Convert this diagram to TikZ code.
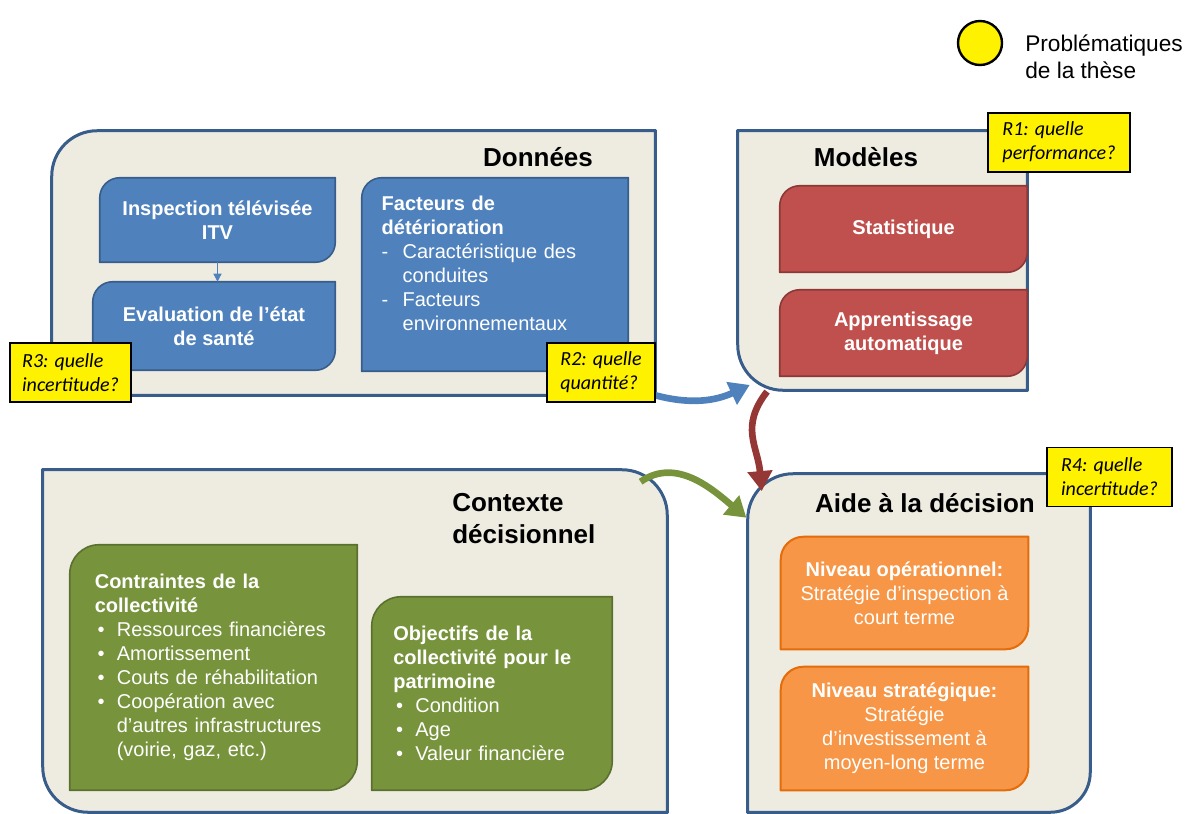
\documentclass[tikz,border=0pt]{standalone}
\usepackage{fontspec}
\setmainfont{Liberation Sans}
\newfontfamily\notefont{Carlito}
\usepackage{tikz}
\usetikzlibrary{
        arrows.meta,
        backgrounds,
        positioning
    }
\definecolor{panelfill}{HTML}{EEECE1}
\definecolor{panelline}{HTML}{385D8A}
\definecolor{bluefill}{HTML}{4F81BD}
\definecolor{blueline}{HTML}{385D8A}
\definecolor{redfill}{HTML}{C0504D}
\definecolor{redline}{HTML}{8C3836}
\definecolor{greenfill}{HTML}{77933C}
\definecolor{greenline}{HTML}{5A7030}
\definecolor{orangefill}{HTML}{F79646}
\definecolor{orangeline}{HTML}{E46C0A}
\definecolor{redarrow}{HTML}{953735}
\tikzset{>={Triangle[length=15pt,width=18pt]}}
% box drawn round a node, one radius per corner: tl, tr, br, bl
\newcommand{\cornerbox}[6]{%
  \path[#2] ([yshift=-#3]#1.north west) arc[start angle=180,end angle=90,radius=#3]
    -- ([xshift=-#4]#1.north east) arc[start angle=90,end angle=0,radius=#4]
    -- ([yshift=#5]#1.south east) arc[start angle=0,end angle=-90,radius=#5]
    -- ([xshift=#6]#1.south west) arc[start angle=270,end angle=180,radius=#6]
    -- cycle;}
\newcommand{\dashitem}{\makebox[15.75pt][l]{-}}
\newcommand{\dotitem}{\makebox[16.5pt][l]{\hspace{2pt}•}}
\newcommand{\dashgap}{\hspace*{15.75pt}}
\newcommand{\dotgap}{\hspace*{16.5pt}}

\begin{document}
\begin{tikzpicture}[x=0.75pt,y=-0.75pt,
    panel/.style={fill=panelfill,draw=panelline,line width=2.25pt},
    bluebox/.style={fill=bluefill,draw=blueline,line width=1.2pt},
    redbox/.style={fill=redfill,draw=redline,line width=1.2pt},
    greenbox/.style={fill=greenfill,draw=greenline,line width=1.2pt},
    orangebox/.style={fill=orangefill,draw=orangeline,line width=1.5pt},
    area/.style={inner sep=0pt},
    boxtext/.style={inner sep=0pt,text=white,font=\fontsize{15}{18}\selectfont},
    boldtext/.style={boxtext,font=\fontsize{15}{18}\selectfont\bfseries},
    title/.style={inner sep=0pt,font=\fontsize{19.5}{24}\selectfont\bfseries},
    question/.style={draw=black,fill=yellow,line width=1.2pt,inner sep=0pt,align=left,
        minimum height=44.25pt,font=\notefont\itshape\fontsize{15}{18}\selectfont},
    flow/.style={->,line width=5pt}]
    \useasboundingbox (0,0) rectangle (1189,814);

    % legend
    \node[circle,fill=yellow,draw=black,line width=1.8pt,minimum size=33pt,inner sep=0pt] (legdot) at (980,43) {};
    \node[anchor=west,align=left,inner sep=0pt,font=\fontsize{17}{20}\selectfont] (legtext) at (1025,57) {Problématiques\\de la thèse};

    % panels
    \node[area,minimum width=452.25pt,minimum height=198pt] (donnees) at (353.5,263) {};
    \node[area,minimum width=216.75pt,minimum height=194.25pt] (modeles) at (882.5,260.5) {};
    \node[area,minimum width=468pt,minimum height=256.5pt] (contexte) at (355,641) {};
    \node[area,minimum width=256.5pt,minimum height=253.5pt] (aide) at (919,643) {};

    \node[title] (tdonnees) at (538,157) {Données};
    \node[title] (tmodeles) at (866,157) {Modèles};
    \node[title,anchor=west,align=left] (tcontexte) at (452,519) {Contexte\\décisionnel};
    \node[title] (taide) at (925,503) {Aide à la décision};

    % Donnees
    \node[boldtext,minimum width=176.25pt,minimum height=63pt,align=center] (insp) at (217.5,220) {Inspection télévisée\\ITV};
    \node[boldtext,minimum width=181.5pt,minimum height=66pt,align=center] (eval) at (214,326) {Evaluation de l’état\\de santé};
    \node[boxtext,minimum width=199.5pt,minimum height=144.75pt,text width=170pt,align=left] (fact) at (495,274.5)
        {\textbf{Facteurs de}\\\textbf{détérioration}\\\dashitem Caractéristique des\\\dashgap conduites\\\dashitem Facteurs\\\dashgap environnementaux\par\vspace{16pt}\kern0pt};

    % Modeles
    \node[boldtext,minimum width=185.25pt,minimum height=64.5pt,align=center] (stat) at (903.5,229) {Statistique};
    \node[boldtext,minimum width=185.25pt,minimum height=64.5pt,align=center] (appr) at (903.5,333) {Apprentissage\\automatique};

    % Contexte
    \node[boxtext,minimum width=215.25pt,minimum height=183.75pt,text width=178pt,align=left] (contr) at (213.5,667.5)
        {\textbf{Contraintes de la}\\\textbf{collectivité}\\\dotitem Ressources financières\\\dotitem Amortissement\\\dotitem Couts de réhabilitation\\\dotitem Coopération avec\\\dotgap d’autres infrastructures\\\dotgap (voirie, gaz, etc.)};
    \node[boxtext,minimum width=180pt,minimum height=144.75pt,text width=148pt,align=left] (obj) at (492,693.5)
        {\textbf{Objectifs de la}\\\textbf{collectivité pour le}\\\textbf{patrimoine}\\\dotitem Condition\\\dotitem Age\\\dotitem Valeur financière};

    % Aide
    \node[boxtext,minimum width=185.25pt,minimum height=84pt,align=center] (nop) at (904.5,593)
        {\textbf{Niveau opérationnel:}\\Stratégie d’inspection à\\court terme};
    \node[boxtext,minimum width=185.25pt,minimum height=92.25pt,align=center] (nstr) at (904.5,728.5)
        {\textbf{Niveau stratégique:}\\Stratégie\\d’investissement à\\moyen-long terme};

    \begin{scope}[on background layer]
        \cornerbox{donnees}{panel}{34pt}{0.1pt}{0.1pt}{0.1pt}
        \cornerbox{modeles}{panel}{0.1pt}{0.1pt}{0.1pt}{34pt}
        \cornerbox{contexte}{panel}{0.1pt}{34pt}{0.1pt}{34pt}
        \cornerbox{aide}{panel}{34pt}{0.1pt}{30pt}{0.1pt}
        \foreach \n in {insp,eval,fact}
            \cornerbox{\n}{bluebox}{15pt}{0.1pt}{15pt}{0.1pt};
        \foreach \n in {stat,appr}
            \cornerbox{\n}{redbox}{15pt}{0.1pt}{15pt}{0.1pt};
        \foreach \n in {contr,obj}
            \cornerbox{\n}{greenbox}{22pt}{0.1pt}{22pt}{0.1pt};
        \foreach \n in {nop,nstr}
            \cornerbox{\n}{orangebox}{17pt}{0.1pt}{17pt}{0.1pt};
    \end{scope}

    % connectors
    \draw[-{Triangle[length=6pt,width=6pt]},bluefill,line width=1pt] (insp.south) -- (insp.south |- eval.north);
    \draw[flow,bluefill] (donnees.south east) to[out=-15,in=205] ([xshift=9pt,yshift=4pt]modeles.south west);
    \draw[flow,redarrow] ([xshift=22pt,yshift=-1pt]modeles.south west) to[out=232,in=95,looseness=1.15] ([xshift=10.5pt,yshift=-13pt]aide.north west);
    \draw[flow,greenfill] ([xshift=-20pt,yshift=-9pt]contexte.north east) to[out=35,in=140] ([xshift=-1pt,yshift=-33pt]aide.north west);

    % questions
    \node[question,minimum width=106.5pt] (r1) at (1059,142.5) {R1: quelle\\performance?};
    \node[question,minimum width=81pt] (r2) at (601,372.5) {R2: quelle\\quantité?};
    \node[question,minimum width=90.75pt] (r3) at (70.5,372.5) {R3: quelle\\incertitude?};
    \node[question,minimum width=93.75pt] (r4) at (1109.5,477) {R4: quelle\\incertitude?};
\end{tikzpicture}
\end{document}
